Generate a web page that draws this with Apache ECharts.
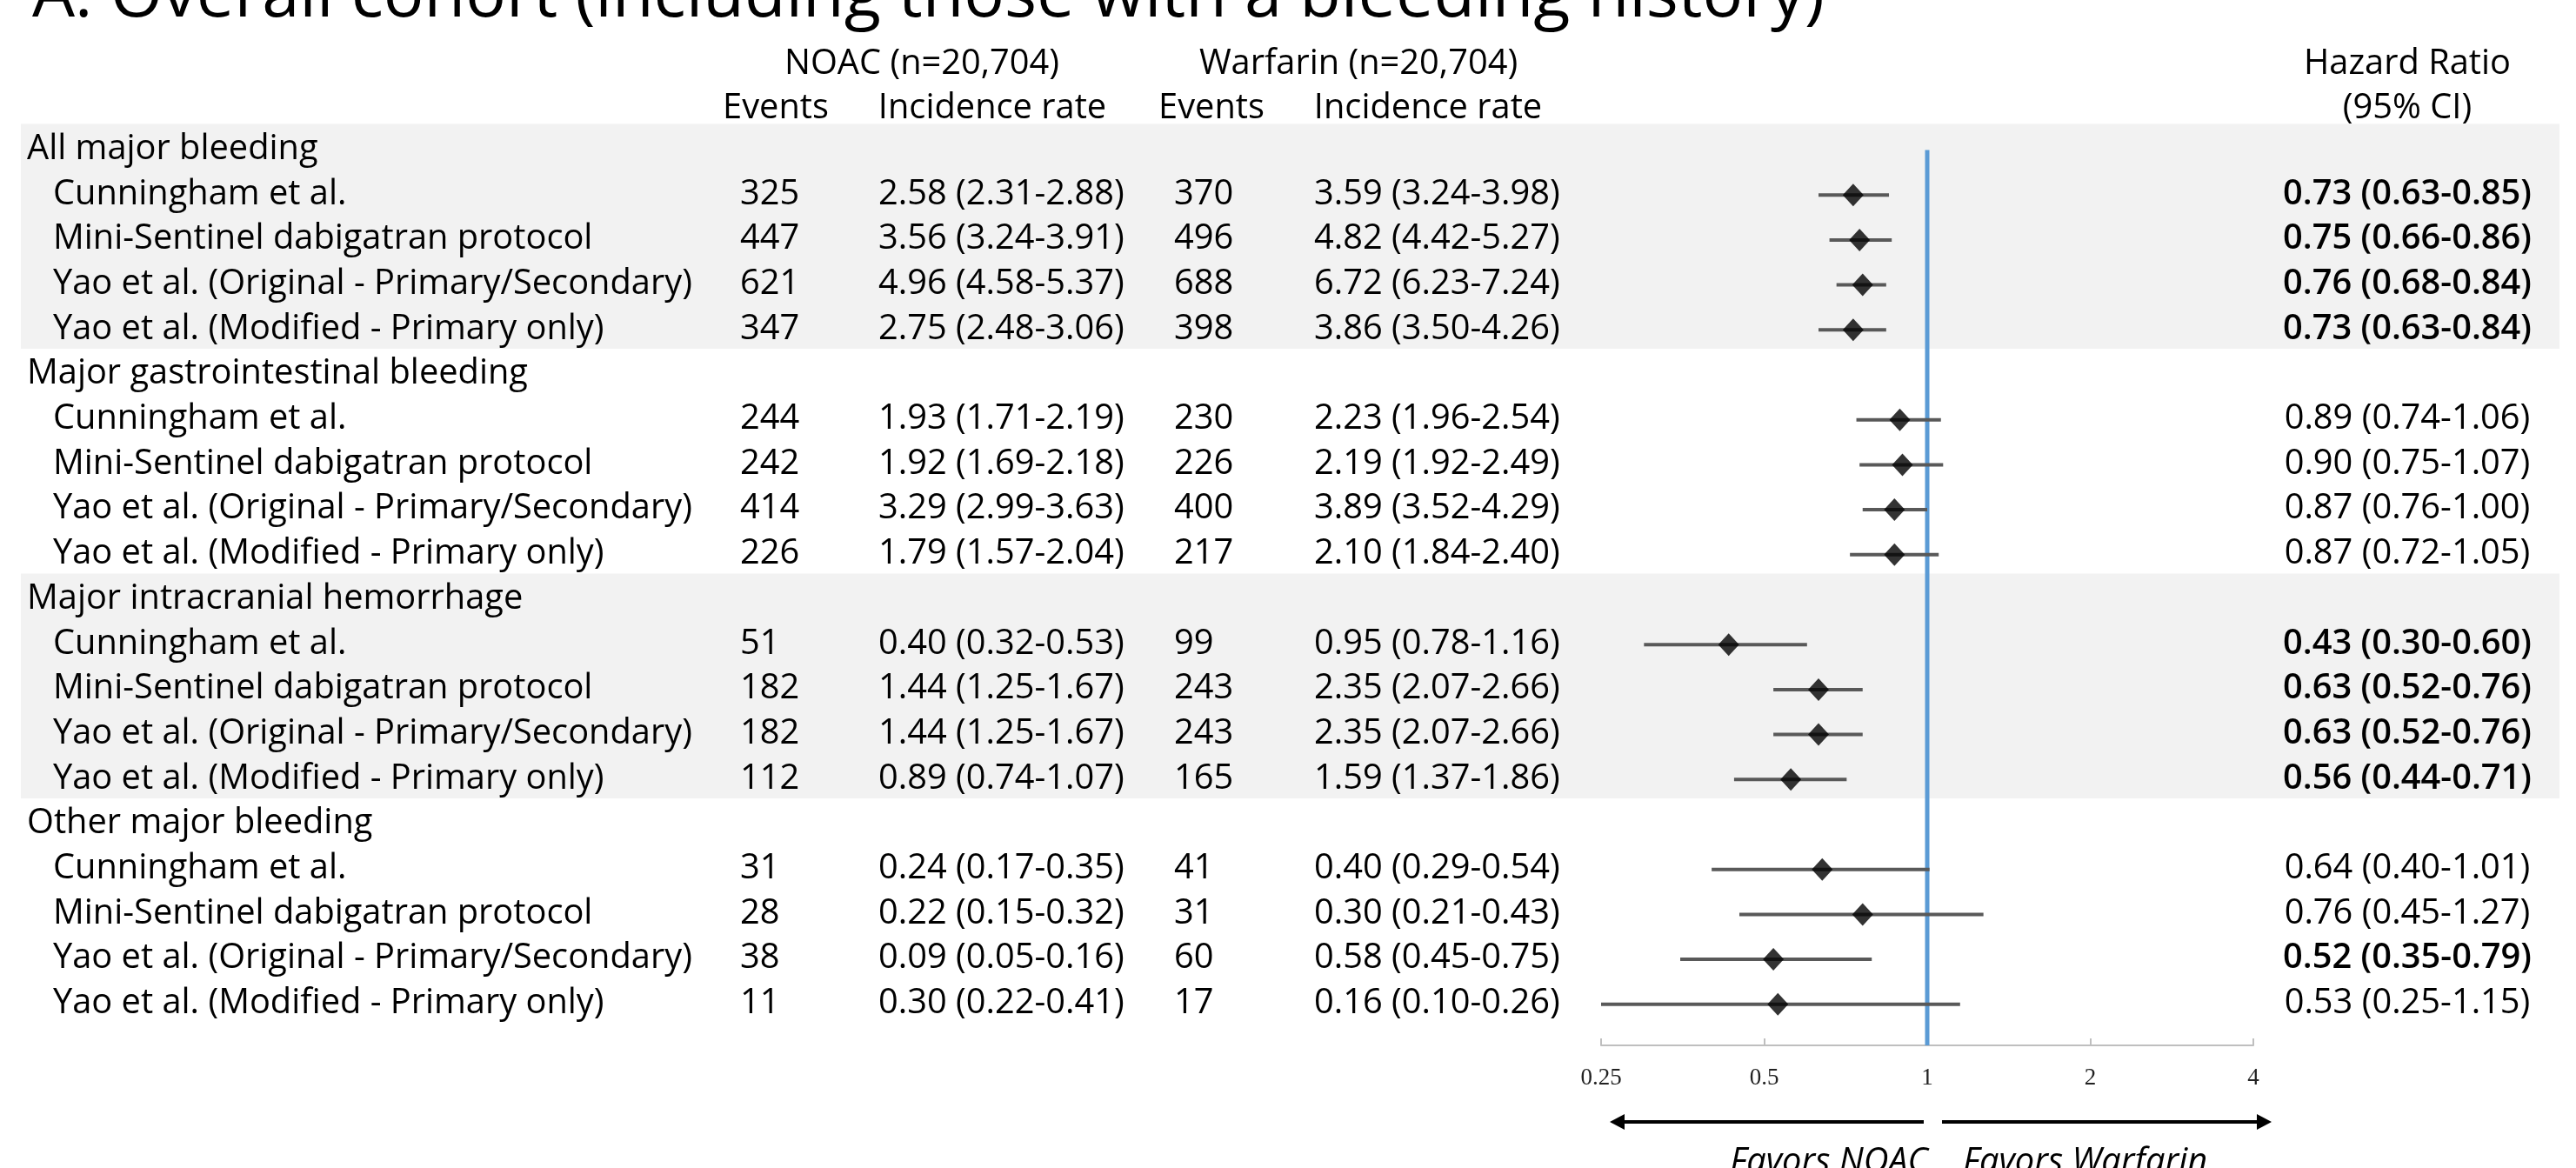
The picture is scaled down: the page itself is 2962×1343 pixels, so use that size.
<!DOCTYPE html>
<html><head><meta charset="utf-8">
<script src="https://cdn.jsdelivr.net/npm/echarts@6/dist/echarts.min.js"></script>
<style>html,body{margin:0;padding:0;background:#fff;}#c{width:2962px;height:1343px;}</style>
</head><body><div id="c"></div>
<script>
// ---------------- data ----------------
const chartTitle = 'A. Overall cohort (including those with a bleeding history)';
const groups = ['All major bleeding', 'Major gastrointestinal bleeding', 'Major intracranial hemorrhage', 'Other major bleeding'];
const studies = ['Cunningham et al.', 'Mini-Sentinel dabigatran protocol', 'Yao et al. (Original - Primary/Secondary)', 'Yao et al. (Modified - Primary only)'];
const armHeaders = ['NOAC (n=20,704)', 'Warfarin (n=20,704)'];
const colHeaders = ['Events', 'Incidence rate', 'Events', 'Incidence rate'];
const hrHeaders = ['Hazard Ratio', '(95% CI)'];
const noacEvents = [325, 447, 621, 347, 244, 242, 414, 226, 51, 182, 182, 112, 31, 28, 38, 11];
const noacRate = ['2.58 (2.31-2.88)', '3.56 (3.24-3.91)', '4.96 (4.58-5.37)', '2.75 (2.48-3.06)',
  '1.93 (1.71-2.19)', '1.92 (1.69-2.18)', '3.29 (2.99-3.63)', '1.79 (1.57-2.04)',
  '0.40 (0.32-0.53)', '1.44 (1.25-1.67)', '1.44 (1.25-1.67)', '0.89 (0.74-1.07)',
  '0.24 (0.17-0.35)', '0.22 (0.15-0.32)', '0.09 (0.05-0.16)', '0.30 (0.22-0.41)'];
const warfEvents = [370, 496, 688, 398, 230, 226, 400, 217, 99, 243, 243, 165, 41, 31, 60, 17];
const warfRate = ['3.59 (3.24-3.98)', '4.82 (4.42-5.27)', '6.72 (6.23-7.24)', '3.86 (3.50-4.26)',
  '2.23 (1.96-2.54)', '2.19 (1.92-2.49)', '3.89 (3.52-4.29)', '2.10 (1.84-2.40)',
  '0.95 (0.78-1.16)', '2.35 (2.07-2.66)', '2.35 (2.07-2.66)', '1.59 (1.37-1.86)',
  '0.40 (0.29-0.54)', '0.30 (0.21-0.43)', '0.58 (0.45-0.75)', '0.16 (0.10-0.26)'];
const hr = [0.73, 0.75, 0.76, 0.73, 0.89, 0.90, 0.87, 0.87, 0.43, 0.63, 0.63, 0.56, 0.64, 0.76, 0.52, 0.53];
const hrLow = [0.63, 0.66, 0.68, 0.63, 0.74, 0.75, 0.76, 0.72, 0.30, 0.52, 0.52, 0.44, 0.40, 0.45, 0.35, 0.25];
const hrHigh = [0.85, 0.86, 0.84, 0.84, 1.06, 1.07, 1.00, 1.05, 0.60, 0.76, 0.76, 0.71, 1.01, 1.27, 0.79, 1.15];
const axisMin = 0.25, axisMax = 4, refHR = 1;
const favorLabels = ['Favors NOAC', 'Favors Warfarin'];

// ---------------- layout ----------------
const L = {
  W: 2962, H: 1343, row0: 172.5, rowH: 51.7, gridTop: 30, axisY: 1202,
  forestLeft: 1841, forestRight: 2591,
  bandLeft: 24, bandRight: 2943, bandPadTop: 0.58, bandPadBottom: 0.42,
  colGroup: 31, colStudy: 61, colNE: 851, colNR: 1010, colWE: 1350, colWR: 1511, colHR: 2768,
  armX: [1060, 1562], hdrX: [892, 1141, 1393, 1642],
  textDy: -1, headerDy: { '-2': 5, '-1': 4 }
};
const FAMILY = '"Open Sans", "Noto Sans", sans-serif';
const mctx = document.createElement('canvas').getContext('2d');
function fit(text, target, pre) {
  mctx.font = (pre || '') + ' 100px ' + FAMILY;
  return 100 * target / mctx.measureText(text).width;
}
const bodyFS = fit(studies[2], 735, 'normal');
const titleFS = fit(chartTitle, 2061, 'normal');
const font = (size, weight, style) => (style || 'normal') + ' ' + (weight || 'normal') + ' ' + size.toFixed(2) + 'px ' + FAMILY;

const yMin = (L.gridTop - L.row0) / L.rowH;
const yMax = (L.axisY - L.row0) / L.rowH;

// rows: group header then its studies
const studyRow = i => Math.floor(i / 4) * 5 + 1 + (i % 4);

// table cells
const cells = [];
groups.forEach((g, gi) => cells.push({ x: L.colGroup, row: gi * 5, text: g, align: 'left' }));
hr.forEach((v, i) => {
  const r = studyRow(i);
  cells.push({ x: L.colStudy, row: r, text: studies[i % 4], align: 'left' });
  cells.push({ x: L.colNE, row: r, text: String(noacEvents[i]), align: 'left' });
  cells.push({ x: L.colNR, row: r, text: noacRate[i], align: 'left' });
  cells.push({ x: L.colWE, row: r, text: String(warfEvents[i]), align: 'left' });
  cells.push({ x: L.colWR, row: r, text: warfRate[i], align: 'left' });
  cells.push({ x: L.colHR, row: r, text: v.toFixed(2) + ' (' + hrLow[i].toFixed(2) + '-' + hrHigh[i].toFixed(2) + ')',
    align: 'center', weight: hrHigh[i] < 1 ? 600 : 'normal' });
});
armHeaders.forEach((t, k) => cells.push({ x: L.armX[k], row: -2, text: t, align: 'center', header: true }));
colHeaders.forEach((t, k) => cells.push({ x: L.hdrX[k], row: -1, text: t, align: 'center', header: true }));
cells.push({ x: L.colHR, row: -2, text: hrHeaders[0], align: 'center', header: true });
cells.push({ x: L.colHR, row: -1, text: hrHeaders[1], align: 'center', header: true });

// shaded bands for alternating groups
const bands = groups.map((g, gi) => [gi * 5, gi * 5 + 4]).filter((b, gi) => gi % 2 === 0);

const chart = echarts.init(document.getElementById('c'), null, { renderer: 'canvas' });
const gridCommon = { top: L.gridTop, bottom: L.H - L.axisY, containLabel: false, outerBoundsMode: 'none' };
chart.setOption({
  animation: false,
  backgroundColor: '#ffffff',
  grid: [
    Object.assign({ left: 0, right: 0 }, gridCommon),
    Object.assign({ left: L.forestLeft, right: L.W - L.forestRight }, gridCommon)
  ],
  xAxis: [
    { type: 'value', gridIndex: 0, min: 0, max: L.W, show: false },
    { type: 'log', gridIndex: 1, logBase: 2, min: axisMin, max: axisMax, position: 'bottom',
      axisLine: { show: true, onZero: false, lineStyle: { color: '#bfbfbf', width: 2 } },
      axisTick: { show: true, inside: true, length: 8, lineStyle: { color: '#bfbfbf', width: 2 } },
      splitLine: { show: false },
      axisLabel: { fontFamily: '"Liberation Serif", serif', fontSize: 27, color: '#222', margin: 24,
        formatter: v => String(+(+v).toPrecision(6)) } }
  ],
  yAxis: [
    { type: 'value', gridIndex: 0, inverse: true, min: yMin, max: yMax, show: false },
    { type: 'value', gridIndex: 1, inverse: true, min: yMin, max: yMax, show: false }
  ],
  series: [
    { type: 'custom', name: 'bands', xAxisIndex: 0, yAxisIndex: 0, z: 0, silent: true, clip: false,
      data: bands, encode: { y: [0, 1] },
      renderItem: (p, api) => {
        const a = api.coord([L.bandLeft, api.value(0) - L.bandPadTop]);
        const b = api.coord([L.bandRight, api.value(1) + L.bandPadBottom]);
        return { type: 'rect', shape: { x: a[0], y: a[1], width: b[0] - a[0], height: b[1] - a[1] }, style: { fill: '#f2f2f2' } };
      } },
    { type: 'custom', name: 'reference', xAxisIndex: 1, yAxisIndex: 1, z: 1, silent: true, clip: false,
      data: [[refHR, 0, yMax]], encode: { x: 0, y: [1, 2] },
      renderItem: (p, api) => {
        const a = api.coord([api.value(0), api.value(1)]);
        const b = api.coord([api.value(0), api.value(2)]);
        return { type: 'line', shape: { x1: a[0], y1: a[1], x2: b[0], y2: b[1] }, style: { stroke: '#5b9bd5', lineWidth: 5 } };
      } },
    { type: 'custom', name: 'ci', xAxisIndex: 1, yAxisIndex: 1, z: 2, silent: true, clip: false,
      data: hr.map((v, i) => [hrLow[i], hrHigh[i], studyRow(i)]), encode: { x: [0, 1], y: 2 },
      renderItem: (p, api) => {
        const a = api.coord([api.value(0), api.value(2)]);
        const b = api.coord([api.value(1), api.value(2)]);
        return { type: 'line', shape: { x1: a[0], y1: a[1], x2: b[0], y2: b[1] }, style: { stroke: '#595959', lineWidth: 4 } };
      } },
    { type: 'scatter', name: 'hr', xAxisIndex: 1, yAxisIndex: 1, z: 3, silent: true,
      symbol: 'diamond', symbolSize: [24, 26], itemStyle: { color: '#000' },
      data: hr.map((v, i) => [v, studyRow(i)]) },
    { type: 'custom', name: 'table', xAxisIndex: 0, yAxisIndex: 0, z: 4, silent: true, clip: false,
      data: cells.map(c => [c.x, c.row]), encode: { x: 0, y: 1 },
      renderItem: (p, api) => {
        const c = cells[p.dataIndex];
        const pt = api.coord([api.value(0), api.value(1)]);
        return { type: 'text', x: pt[0], y: pt[1] + (c.header ? L.headerDy[String(c.row)] : L.textDy),
          style: { text: c.text, fill: '#000', font: font(bodyFS, c.weight), align: c.align, verticalAlign: 'middle' } };
      } }
  ],
  graphic: { elements: [
    { type: 'text', x: 37, y: 27 - 0.388 * titleFS, silent: true,
      style: { text: chartTitle, fill: '#000', font: font(titleFS), align: 'left', verticalAlign: 'middle' } },
    { type: 'line', shape: { x1: 2212, y1: 1290, x2: 1864, y2: 1290 }, style: { stroke: '#000', lineWidth: 4 } },
    { type: 'polygon', shape: { points: [[1851, 1290], [1868, 1281], [1868, 1299]] }, style: { fill: '#000' } },
    { type: 'line', shape: { x1: 2233, y1: 1290, x2: 2599, y2: 1290 }, style: { stroke: '#000', lineWidth: 4 } },
    { type: 'polygon', shape: { points: [[2612, 1290], [2595, 1281], [2595, 1299]] }, style: { fill: '#000' } },
    { type: 'text', x: 2217, y: 1337, silent: true,
      style: { text: favorLabels[0], fill: '#000', font: font(bodyFS, 'normal', 'italic'), align: 'right', verticalAlign: 'middle' } },
    { type: 'text', x: 2257, y: 1337, silent: true,
      style: { text: favorLabels[1], fill: '#000', font: font(bodyFS, 'normal', 'italic'), align: 'left', verticalAlign: 'middle' } }
  ] }
});
</script></body></html>
